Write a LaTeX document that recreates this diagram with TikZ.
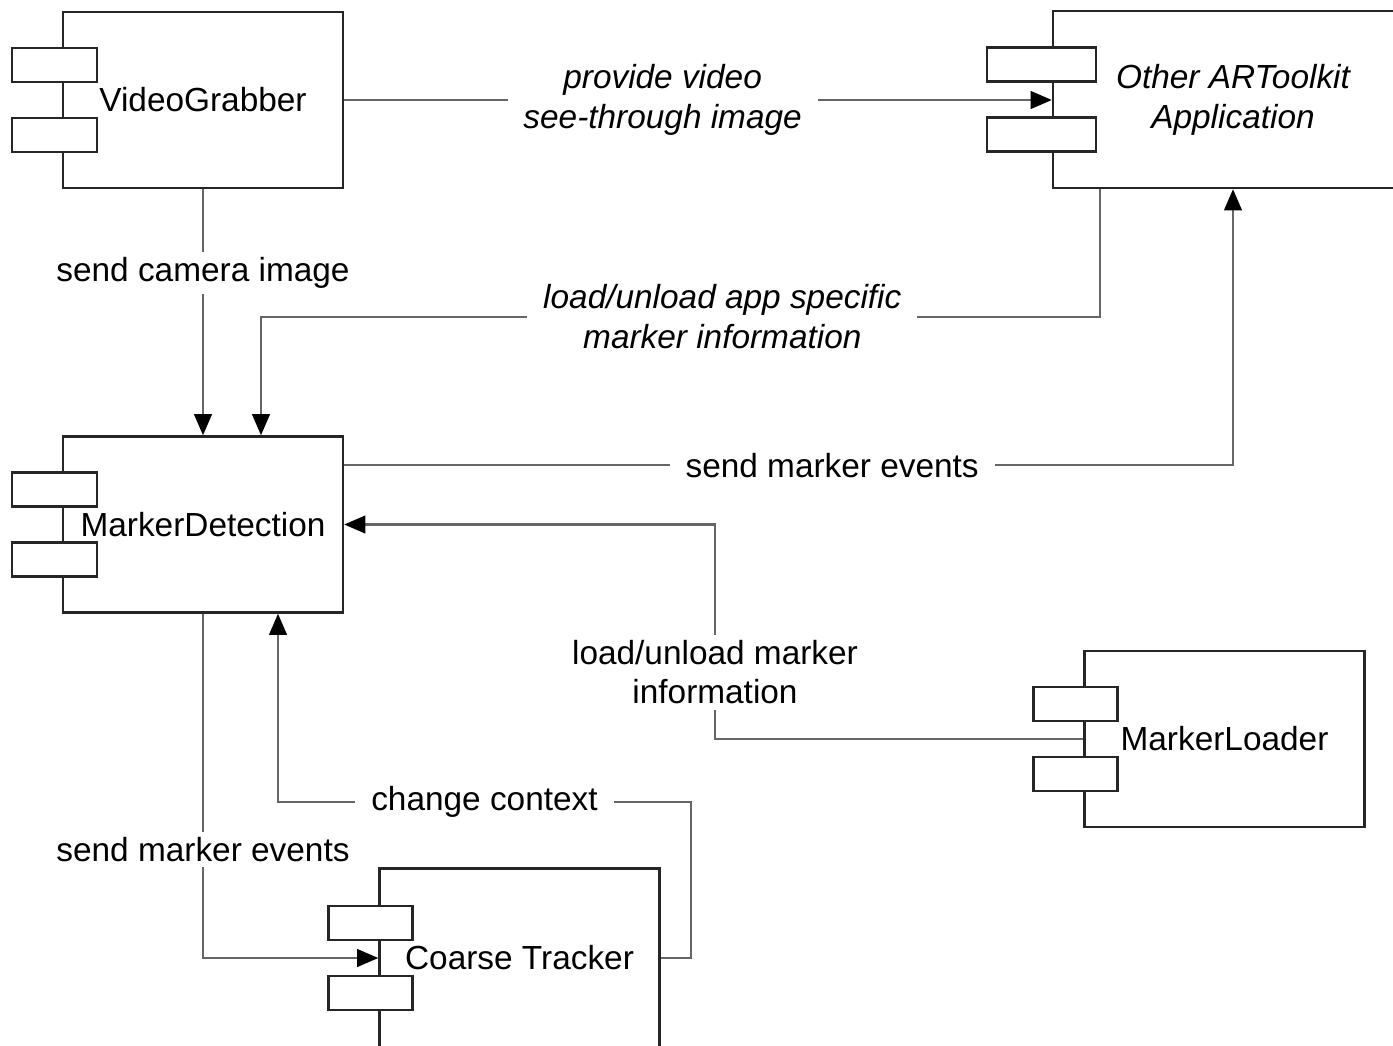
\documentclass[tikz,border=0pt]{standalone}
\usepackage{fontspec}
\setmainfont{Liberation Sans}
\usetikzlibrary{arrows.meta,calc}

% the two little tabs on the left side of a component box
\newcommand{\comptabs}[3]{%
  \draw[tab] ($(#1.west)+(-#2,-52)$) rectangle ($(#1.west)+(#3,-18)$);
  \draw[tab] ($(#1.west)+(-#2,18)$) rectangle ($(#1.west)+(#3,52)$);}

\begin{document}
\begin{tikzpicture}[x=0.02cm,y=-0.02cm,
    >={Triangle[length=12pt,width=10pt,color=black]},
    font=\fontsize{19}{22.7}\selectfont,
    ital/.style={font=\fontsize{19}{22.7}\selectfont\itshape},
    comp/.style={draw=black!85,line width=1.4pt,fill=white,inner sep=0pt,
                 minimum width=5.6cm,minimum height=3.52cm,align=center},
    tab/.style={draw=black!85,line width=1.4pt,fill=white},
    conn/.style={draw=black!60,line width=1.3pt,->},
    lbl/.style={fill=white,inner xsep=9pt,inner ysep=3pt,align=center}]

	\clip (0,0) rectangle (1393,1045);
	\fill[white] (0,0) rectangle (1393,1045);

	% Components
	\node[comp] (VG) at (203,100) {VideoGrabber};
	\node[comp,ital,minimum width=7.2cm,minimum height=3.54cm] (OA) at (1233,99.5) {Other ARToolkit\\Application};
	\node[comp] (MD) at (203,524.5) {MarkerDetection};
	\node[comp] (ML) at (1224.5,739) {MarkerLoader};
	\node[comp,minimum height=3.58cm] (CT) at (519.5,958) {Coarse Tracker};

	% Tabs
	\comptabs{VG}{50}{35}
	\comptabs{OA}{65}{44}
	\comptabs{MD}{50}{35}
	\comptabs{ML}{50}{34}
	\comptabs{CT}{50}{34}

	% Bends
	\coordinate (bendA) at (261,317);
	\coordinate (bendB) at (715,524.5);
	\coordinate (bendC) at (691,802);
	\coordinate (bendD) at (278,802);

	% Connectors
	\draw[conn] (VG.east) -- node[lbl,ital,pos=0.45]{provide video\\see-through image} (VG.east -| OA.west);
	\draw[conn] (VG.south) -- node[lbl,pos=0.34]{send camera image} (MD.north);
	\draw[conn] ($(OA.south west)+(48,0)$) |- node[lbl,ital,pos=0.725]{load/unload app specific\\marker information} (bendA) -- (bendA |- MD.north);
	\draw[conn] ($(MD.north east)+(0,30)$) -| node[lbl,pos=0.2745]{send marker events} (OA.south);
	\draw[conn] (ML.west) -| node[lbl,pos=0.656]{load/unload marker\\information} (bendB) -- (MD.east);
	\draw[conn] (MD.south) |- node[lbl,pos=0.342]{send marker events} (CT.west);
	\draw[conn] (CT.east) -| (bendC) -- node[lbl]{change context} (bendD) -- (bendD |- MD.south);

\end{tikzpicture}
\end{document}
